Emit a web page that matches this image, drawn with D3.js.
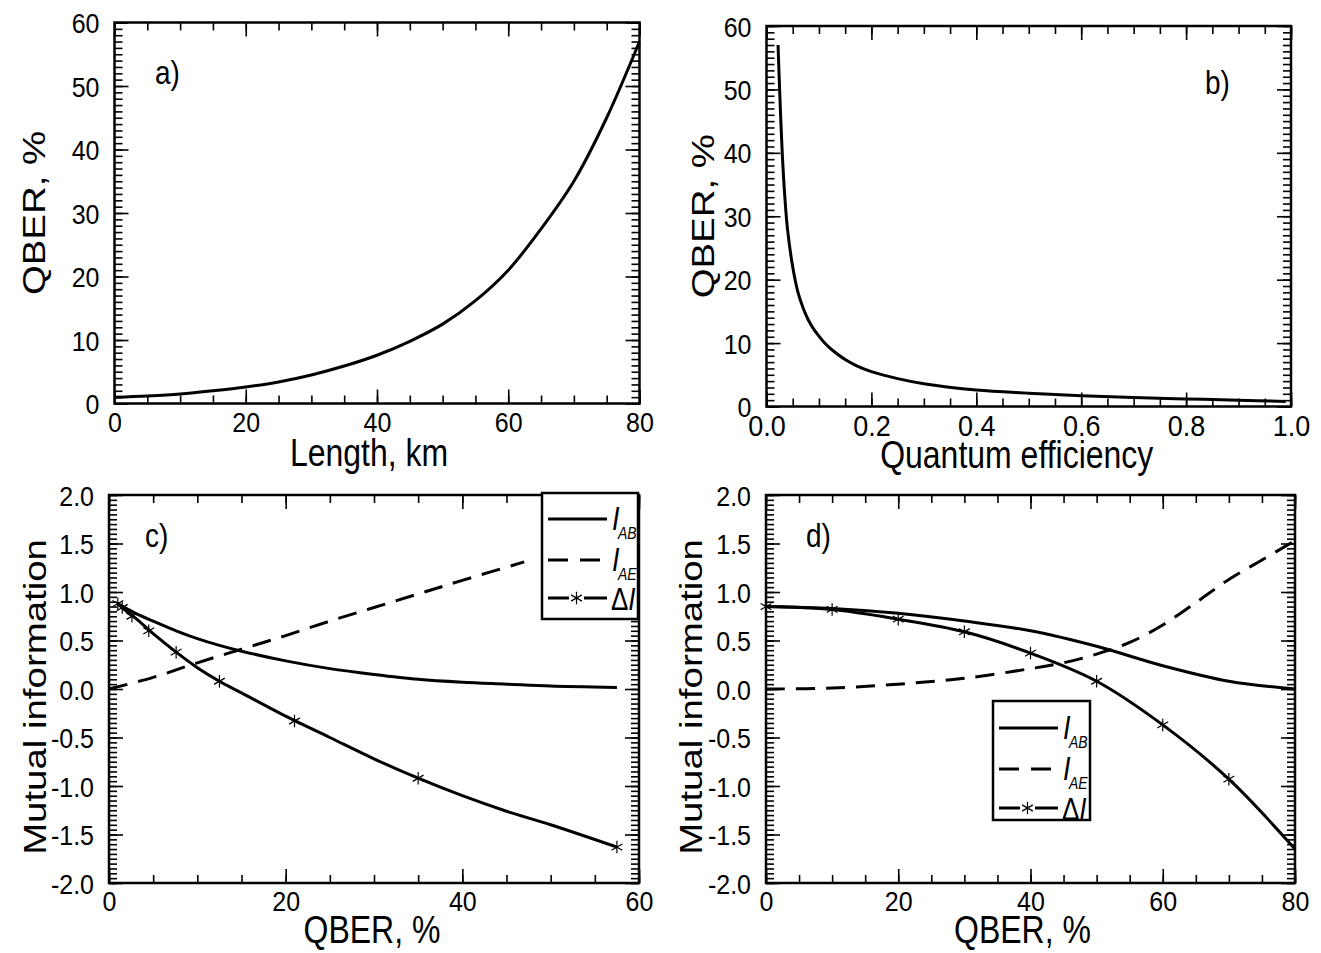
<!DOCTYPE html>
<html>
<head>
<meta charset="utf-8">
<script src="https://cdn.jsdelivr.net/npm/d3@7"></script>
<style>
  html, body { margin: 0; padding: 0; background: #fff; }
  svg text { font-family: "Liberation Sans", Arial, sans-serif; fill: #000; }
</style>
</head>
<body>
<svg id="chart" width="1321" height="953"></svg>
<script>
// values

// a) QBER vs fibre length
const lengthKm = [0, 5, 10, 15, 20, 25, 30, 35, 40, 45, 50, 55, 60, 65, 70, 75, 80];
const qberVsLength = [1.0, 1.2, 1.5, 2.0, 2.6, 3.4, 4.5, 5.9, 7.6, 9.8, 12.5, 16.2, 21, 27.5, 35, 45, 57];

// b) QBER vs quantum efficiency
const efficiency = [0.022, 0.025, 0.03, 0.035, 0.04, 0.05, 0.06, 0.07, 0.08, 0.09, 0.1, 0.11, 0.12, 0.13, 0.15, 0.17, 0.2, 0.25, 0.3, 0.4, 0.5, 0.6, 0.7, 0.8, 0.9, 0.99];
const qberVsEfficiency = [57, 50, 40, 33, 28, 22, 18, 15.5, 13.6, 12.2, 11.1, 10.1, 9.3, 8.6, 7.4, 6.5, 5.5, 4.4, 3.6, 2.6, 2.1, 1.7, 1.4, 1.2, 1.0, 0.8];

// c) mutual information vs QBER (length sweep)
const qberC = [1, 2, 3, 5, 7.6, 10, 12.5, 15, 20, 25, 30, 35, 40, 45, 50, 57.5];
const iabC = [0.88, 0.83, 0.78, 0.7, 0.6, 0.52, 0.45, 0.39, 0.29, 0.21, 0.15, 0.1, 0.07, 0.05, 0.03, 0.015];
const deltaC = [0.88, 0.80, 0.73, 0.57, 0.38, 0.22, 0.08, -0.04, -0.28, -0.5, -0.72, -0.92, -1.1, -1.26, -1.4, -1.63];
const qberAeC = [0, 5, 10, 15, 20, 25, 30, 35, 40, 47];
const iaeC = [0, 0.12, 0.27, 0.41, 0.55, 0.7, 0.84, 0.98, 1.12, 1.31];
const markQberC = [1.0, 1.5, 2.6, 4.5, 7.6, 12.5, 21, 35, 57.5];
const markDeltaC = [0.88, 0.84, 0.75, 0.6, 0.38, 0.08, -0.33, -0.92, -1.63];

// d) mutual information vs QBER
const qberD = [0, 10, 20, 30, 40, 50, 60, 70, 80];
const iabD = [0.85, 0.83, 0.78, 0.7, 0.6, 0.44, 0.24, 0.08, 0.0];
const deltaD = [0.85, 0.82, 0.72, 0.59, 0.37, 0.08, -0.37, -0.93, -1.65];
const qberAeD = [0, 10, 20, 30, 40, 45, 50, 55, 60, 65, 70, 75, 80];
const iaeD = [0, 0.01, 0.05, 0.11, 0.21, 0.27, 0.36, 0.48, 0.66, 0.89, 1.13, 1.33, 1.53];
const markQberD = [0, 10, 20, 30, 40, 50, 60, 70];
const markDeltaD = [0.85, 0.82, 0.72, 0.59, 0.37, 0.08, -0.37, -0.93];

const legendNames = ['AB', 'AE', 'delta'];

// the original figure is stretched vertically, its text too
const K_TICK = 1.12, K = 1.2;
const TICK_FS = 25, TITLE_FS = 32;

const svg = d3.select('#chart');
const zip = (xs, ys) => xs.map((v, i) => [v, ys[i]]);
const steps = (a, b, s) => d3.range(Math.round((b - a) / s) + 1).map(i => a + i * s);

// horizontal text, stretched vertically around its baseline
function hText(parent, x, y, fs, str, anchor) {
	return parent.append('text')
		.attr('transform', `translate(${x},${y}) scale(1,${K})`)
		.attr('text-anchor', anchor || 'start')
		.style('font-size', fs + 'px')
		.text(str);
}

function drawPanel(p) {
	const x = d3.scaleLinear().domain(p.xDomain).range([p.box.left, p.box.right]);
	const y = d3.scaleLinear().domain(p.yDomain).range([p.box.bottom, p.box.top]);
	const g = svg.append('g');
	const MAJOR = 14, MINOR = 8;
	const capH = 0.716 * TICK_FS * K_TICK;
	const xFs = p.xTickFs || TICK_FS;

	function addAxis(axisFn, scale, ticks, len, translate, fmt, fs) {
		const a = axisFn(scale).tickValues(ticks).tickSize(-len).tickFormat(fmt || (() => ''));
		const ag = g.append('g').attr('transform', translate).call(a);
		ag.select('.domain').remove();
		ag.selectAll('.tick line').attr('stroke', '#000').attr('stroke-width', 1.6);
		ag.selectAll('text').style('font-size', (fs || TICK_FS) + 'px').attr('fill', '#000')
			.attr('x', null).attr('y', null).attr('dy', null);
		return ag;
	}
	const xMinor = steps(p.xDomain[0], p.xDomain[1], p.xMinor);
	const xMajor = steps(p.xDomain[0], p.xDomain[1], p.xMajor);
	const yMinor = steps(p.yDomain[0], p.yDomain[1], p.yMinor);
	const yMajor = steps(p.yDomain[0], p.yDomain[1], p.yMajor);
	const B = `translate(0,${p.box.bottom})`, T = `translate(0,${p.box.top})`;
	const L = `translate(${p.box.left},0)`, R = `translate(${p.box.right},0)`;

	addAxis(d3.axisBottom, x, xMinor, MINOR, B);
	addAxis(d3.axisTop, x, xMinor, MINOR, T);
	addAxis(d3.axisBottom, x, xMajor, MAJOR, B, p.xFmt, xFs)
		.selectAll('text').attr('transform', `translate(0,${8 + 0.716 * xFs * K_TICK}) scale(1,${K_TICK})`);
	addAxis(d3.axisTop, x, xMajor, MAJOR, T);
	addAxis(d3.axisLeft, y, yMinor, MINOR, L);
	addAxis(d3.axisRight, y, yMinor, MINOR, R);
	addAxis(d3.axisLeft, y, yMajor, MAJOR, L, p.yFmt)
		.selectAll('text').attr('transform', `translate(-15,${capH / 2}) scale(1,${K_TICK})`);
	addAxis(d3.axisRight, y, yMajor, MAJOR, R);

	g.append('rect')
		.attr('x', p.box.left).attr('y', p.box.top)
		.attr('width', p.box.right - p.box.left).attr('height', p.box.bottom - p.box.top)
		.attr('fill', 'none').attr('stroke', '#000').attr('stroke-width', 2.5);

	const line = d3.line().x(d => x(d[0])).y(d => y(d[1])).curve(d3.curveCatmullRom.alpha(0.5));
	p.series.forEach(s => {
		g.append('path')
			.datum(s.points)
			.attr('d', line)
			.attr('fill', 'none')
			.attr('stroke', '#000')
			.attr('stroke-width', 3)
			.attr('stroke-dasharray', s.dashed ? '19,11' : null);
		if (s.marks) {
			g.selectAll(null).data(s.marks).enter().append('path')
				.attr('d', d3.symbol().type(d3.symbolAsterisk).size(110))
				.attr('transform', d => `translate(${x(d[0])},${y(d[1])})`)
				.attr('fill', 'none').attr('stroke', '#000').attr('stroke-width', 1.2);
		}
	});

	// panel letter
	hText(g, p.tag.x, p.tag.y, 28, p.tag.text);

	// axis titles
	const cx = (p.box.left + p.box.right) / 2 + p.xTitleShift;
	hText(g, cx, p.box.bottom + p.xTitleDy, TITLE_FS, p.xTitle, 'middle');
	g.append('text')
		.attr('transform', `translate(${p.yTitleX},${(p.box.top + p.box.bottom) / 2 + p.yTitleShift}) rotate(-90) scale(${K},1)`)
		.attr('text-anchor', 'middle').style('font-size', TITLE_FS + 'px').text(p.yTitle);

	if (p.legend) drawLegend(g, p.legend);
}

function drawLegend(g, lg) {
	g.append('rect')
		.attr('x', lg.x).attr('y', lg.y).attr('width', lg.w).attr('height', lg.h)
		.attr('fill', '#fff').attr('stroke', '#000').attr('stroke-width', 2.5);
	const items = g.selectAll(null).data(legendNames).enter().append('g')
		.attr('transform', (d, i) => `translate(${lg.x + 6},${lg.y + lg.rows[i]})`);
	items.each(function(d) {
		const it = d3.select(this);
		const seg = (x1, x2, dash) => it.append('line').attr('x1', x1).attr('x2', x2)
			.attr('stroke', '#000').attr('stroke-width', 3).attr('stroke-dasharray', dash);
		if (d === 'AB') seg(0, 59, null);
		if (d === 'AE') seg(0, 59, '20,12');
		if (d === 'delta') {
			seg(0, 21, null);
			seg(36, 59, null);
			it.append('path').attr('d', d3.symbol().type(d3.symbolAsterisk).size(110))
				.attr('transform', 'translate(28.5,0)')
				.attr('fill', 'none').attr('stroke', '#000').attr('stroke-width', 1.2);
		}
		if (d === 'delta') {
			const t = hText(it, 63, 12, 26, '\u0394');
			t.append('tspan').style('font-style', 'italic').text('I');
		} else {
			hText(it, 64, 11, 27, 'I').style('font-style', 'italic');
			hText(it, 70, 20, 14, d).style('font-style', 'italic');
		}
	});
}

const fmt1 = d => d.toFixed(1);
const fmt0 = d => d.toFixed(0);

drawPanel({
	box: {left: 114.5, right: 639.5, top: 22.5, bottom: 403.5},
	xDomain: [0, 80], yDomain: [0, 60],
	xMajor: 20, xMinor: 5, yMajor: 10, yMinor: 1,
	xFmt: fmt0, yFmt: fmt0,
	xTitle: 'Length, km', yTitle: 'QBER, %', xTitleDy: 62, xTitleShift: -8, yTitleX: 45, yTitleShift: 0,
	tag: {text: 'a)', x: 155, y: 84},
	series: [{points: zip(lengthKm, qberVsLength)}]
});

drawPanel({
	box: {left: 766.5, right: 1291, top: 26, bottom: 406.5},
	xDomain: [0, 1], yDomain: [0, 60],
	xMajor: 0.2, xMinor: 0.05, yMajor: 10, yMinor: 1,
	xFmt: fmt1, yFmt: fmt0, xTickFs: 27,
	xTitle: 'Quantum efficiency', yTitle: 'QBER, %', xTitleDy: 61, xTitleShift: -12, yTitleX: 714, yTitleShift: 0,
	tag: {text: 'b)', x: 1205, y: 94},
	series: [{points: zip(efficiency, qberVsEfficiency)}]
});

drawPanel({
	box: {left: 109, right: 639, top: 495, bottom: 883},
	xDomain: [0, 60], yDomain: [-2, 2],
	xMajor: 20, xMinor: 5, yMajor: 0.5, yMinor: 0.05,
	xFmt: fmt0, yFmt: fmt1,
	xTitle: 'QBER, %', yTitle: 'Mutual information', xTitleDy: 60, xTitleShift: -2, yTitleX: 46, yTitleShift: 8,
	tag: {text: 'c)', x: 145, y: 547},
	series: [
		{points: zip(qberC, iabC)},
		{points: zip(qberAeC, iaeC), dashed: true},
		{points: zip(qberC, deltaC), marks: zip(markQberC, markDeltaC)}
	],
	legend: {x: 542, y: 493, w: 96, h: 126, rows: [26, 67, 105]}
});

drawPanel({
	box: {left: 766, right: 1295, top: 495, bottom: 883},
	xDomain: [0, 80], yDomain: [-2, 2],
	xMajor: 20, xMinor: 5, yMajor: 0.5, yMinor: 0.05,
	xFmt: fmt0, yFmt: fmt1,
	xTitle: 'QBER, %', yTitle: 'Mutual information', xTitleDy: 60, xTitleShift: -8, yTitleX: 702, yTitleShift: 8,
	tag: {text: 'd)', x: 806, y: 547},
	series: [
		{points: zip(qberD, iabD)},
		{points: zip(qberAeD, iaeD), dashed: true},
		{points: zip(qberD, deltaD), marks: zip(markQberD, markDeltaD)}
	],
	legend: {x: 993, y: 701, w: 97, h: 119, rows: [27, 68, 107]}
});
</script>
</body>
</html>
